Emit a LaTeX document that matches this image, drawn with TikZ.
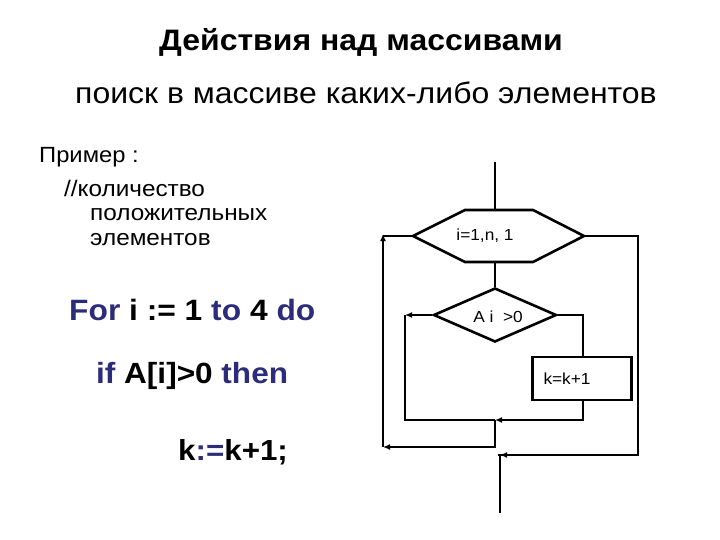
\documentclass[tikz,border=0pt]{standalone}
\usepackage{fontspec}
\setmainfont{Liberation Sans}[FakeStretch=1.08]
\usetikzlibrary{arrows.meta,shapes.geometric}
\definecolor{kw}{RGB}{44,44,122}
\tikzset{
  txt/.style={anchor=west,inner sep=0pt},
  ln/.style={line width=2.6pt},
  arr/.style={line width=2.6pt,-{Latex[length=7pt,width=6pt]}},
  fc/.style={font=\fontsize{16}{18}\selectfont},
}
\begin{document}
\begin{tikzpicture}[x=1pt,y=-1pt]
\useasboundingbox (0,0) rectangle (720,540);
\node[inner sep=0pt,font=\fontsize{29.6}{32}\selectfont\bfseries] (title) at (361,42) {Действия над массивами};
\node[txt,font=\fontsize{29.6}{32}\selectfont] (sub) at (75,93) {поиск в массиве каких-либо элементов};
\node[txt,font=\fontsize{22}{24}\selectfont] (ex) at (39,157) {Пример :};
\node[txt,font=\fontsize{22.5}{24}\selectfont] (c1) at (64,188) {//количество};
\node[txt,font=\fontsize{22.5}{24}\selectfont] (c2) at (90,215) {положительных};
\node[txt,font=\fontsize{22.5}{24}\selectfont] (c3) at (90,240) {элементов};
\node[txt,font=\fontsize{29.4}{32}\selectfont\bfseries] (for) at (69,310) {\textcolor{kw}{For} i := 1 \textcolor{kw}{to} 4 \textcolor{kw}{do}};
\node[txt,font=\fontsize{29.2}{32}\selectfont\bfseries] (if) at (96,376) {\textcolor{kw}{if} A[i]>0 \textcolor{kw}{then}};
\node[txt,font=\fontsize{29}{32}\selectfont\bfseries] (k) at (178,452) {k\textcolor{kw}{:=}k+1;};
% flowchart
\coordinate (start) at (495,162);
\coordinate (hexT) at (495,210);
\coordinate (hexL) at (413,236);
\coordinate (hexR) at (584,236);
\coordinate (hexB) at (495,262);
\draw[ln,line join=miter] (465,210) -- (533,210) -- (hexR) -- (533,262) -- (465,262) -- (hexL) -- cycle;
\node[inner sep=0pt,fc] (hex) at (485,236) {i=1,n, 1};
\node[draw,ln,diamond,minimum width=123pt,minimum height=54pt,inner sep=0pt] (dia) at (495,315) {};
\node[inner sep=0pt,fc] (cond) at (498,317) {A i \ >0};
\node[draw,ln,rectangle,minimum width=99pt,minimum height=43pt,inner xsep=11pt,text width=77pt,align=left,fc] (box) at (582,378.5) {k=k+1};
\coordinate (L1) at (383,236);
\coordinate (L1b) at (383,447);
\coordinate (R1) at (638,236);
\coordinate (R1b) at (638,455);
\coordinate (exitT) at (500,455);
\coordinate (exitB) at (500,513);
\coordinate (dL) at (405,315);
\coordinate (dLb) at (405,420);
\coordinate (dR) at (583,315);
\coordinate (boxB) at (583,400);
\coordinate (boxBb) at (583,420);
\coordinate (join) at (495,420);
\coordinate (joinB) at (495,447);
\draw[ln] (start) -- (hexT);
\draw[ln] (hexB) -- (dia.north);
\draw[ln] (hexL) -- (L1);
\draw[arr] (L1b) -- ([yshift=2pt]L1);
\draw[ln] (hexR) -- (R1) -- (R1b) -- ([xshift=-2pt]exitT);
\draw[arr] ([xshift=30pt]exitT) -- (exitT);
\draw[ln] (exitT) -- (exitB);
\draw[arr] (dia.west) -- (dL);
\draw[ln] (dL) -- (dLb) -- (join);
\draw[ln] (dia.east) -- (dR) -- (box.north -| dR);
\draw[ln] (box.south -| boxB) -- (boxBb) -- ([xshift=20pt]join);
\draw[arr] ([xshift=20pt]join) -- (join);
\draw[ln] (join) -- (joinB) -- ([xshift=-30pt]joinB);
\draw[arr] ([xshift=-30pt]joinB) -- (L1b);
\end{tikzpicture}
\end{document}
